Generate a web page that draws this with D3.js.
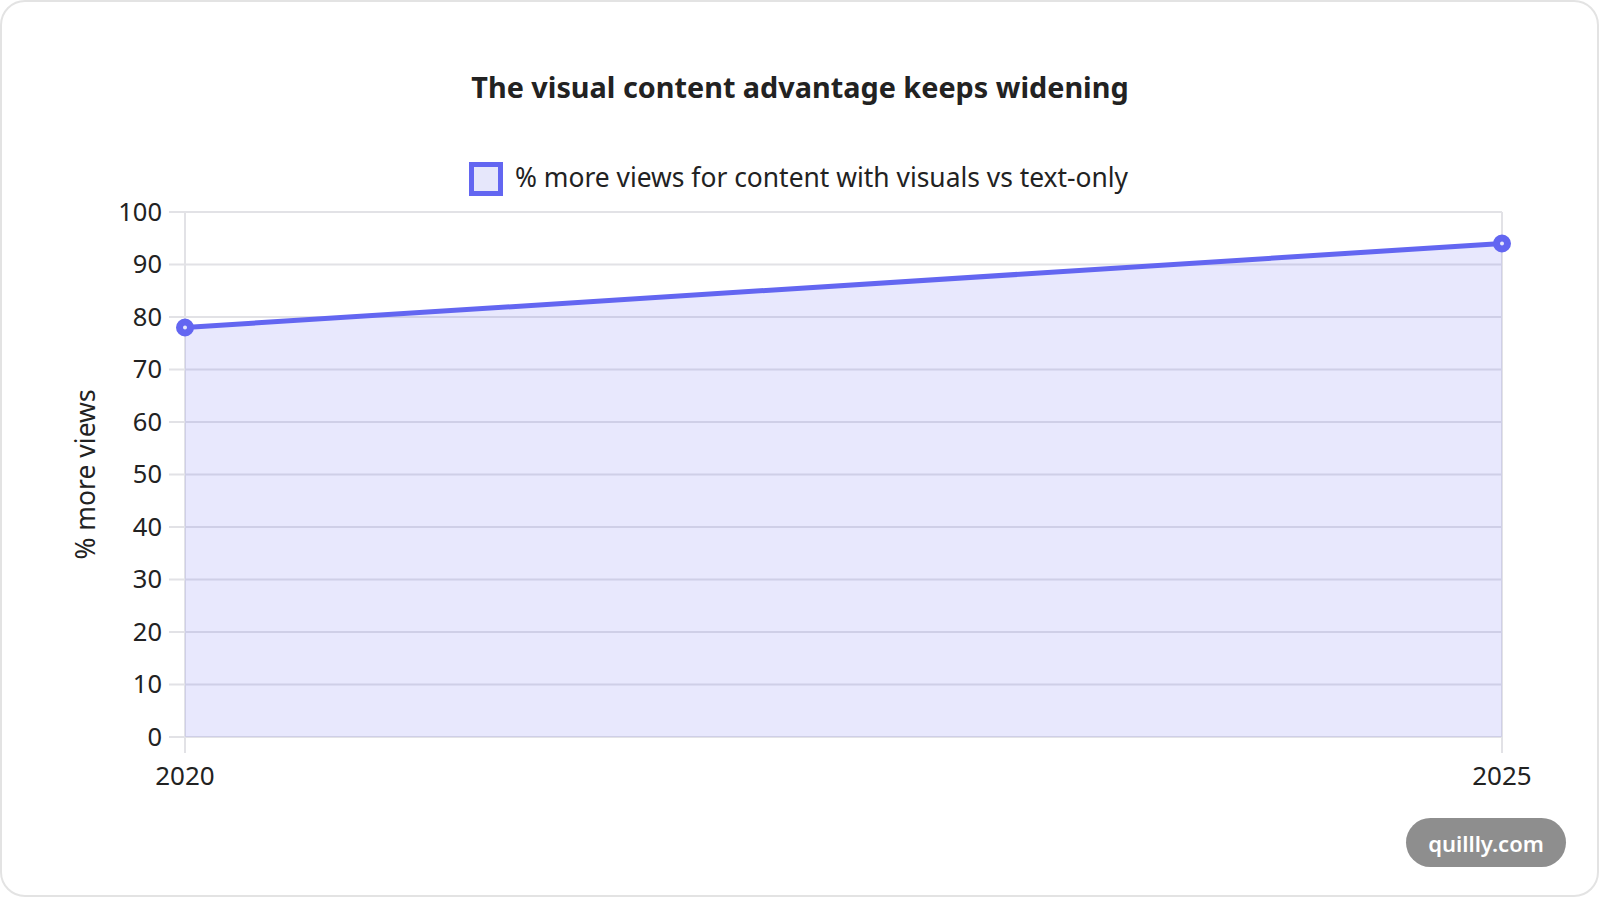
<!DOCTYPE html>
<html>
<head>
  <meta charset="utf-8">
  <script src="https://cdn.jsdelivr.net/npm/d3@7"></script>
  <style>
    html, body { margin: 0; padding: 0; background: #fff; }
    text { font-family: "Noto Sans", "Open Sans", sans-serif; fill: #222; }
  </style>
</head>
<body>
  <div id="chart"></div>
  <script>
    // data
    const years = ["2020", "2025"];
    const moreViews = [78, 94];
    const yTicks = [0, 10, 20, 30, 40, 50, 60, 70, 80, 90, 100];
    const seriesName = "% more views for content with visuals vs text-only";

    const width = 1600;
    const height = 898;
    const plot = { left: 185, right: 1502, top: 212, bottom: 737 };
    const lineColor = "#6366f1";
    const fillColor = "rgba(99,102,241,0.15)";
    const gridColor = "#e2e2e6";

    const svg = d3.select("#chart")
      .append("svg")
      .attr("width", width)
      .attr("height", height);

    // card
    svg.append("rect")
      .attr("x", 1).attr("y", 1)
      .attr("width", width - 3).attr("height", height - 3)
      .attr("rx", 24)
      .attr("fill", "#fff")
      .attr("stroke", "#e3e3e3")
      .attr("stroke-width", 2);

    var x = d3.scalePoint().domain(years).range([plot.left, plot.right]);
    var y = d3.scaleLinear().domain([0, 100]).range([plot.bottom, plot.top]);

    // grid
    var grid = svg.append("g");
    grid.selectAll(".hgrid")
      .data(yTicks)
      .enter().append("line")
      .attr("x1", plot.left - 16).attr("x2", plot.right)
      .attr("y1", d => y(d)).attr("y2", d => y(d))
      .attr("stroke", gridColor)
      .attr("stroke-width", 2);
    grid.selectAll(".vgrid")
      .data(years)
      .enter().append("line")
      .attr("x1", d => x(d)).attr("x2", d => x(d))
      .attr("y1", plot.top).attr("y2", plot.bottom + 16)
      .attr("stroke", gridColor)
      .attr("stroke-width", 2);

    // area + line
    var pts = years.map((d, i) => ({ year: d, value: moreViews[i] }));

    var area = d3.area()
      .x(d => x(d.year))
      .y0(y(0))
      .y1(d => y(d.value));

    var line = d3.line()
      .x(d => x(d.year))
      .y(d => y(d.value));

    svg.append("path")
      .datum(pts)
      .attr("d", area)
      .attr("fill", fillColor);

    svg.append("path")
      .datum(pts)
      .attr("d", line)
      .attr("fill", "none")
      .attr("stroke", lineColor)
      .attr("stroke-width", 5);

    svg.selectAll(".pt")
      .data(pts)
      .enter().append("circle")
      .attr("cx", d => x(d.year))
      .attr("cy", d => y(d.value))
      .attr("r", 5.5)
      .attr("fill", "#e6e7fb")
      .attr("stroke", lineColor)
      .attr("stroke-width", 7);

    // y tick labels
    svg.selectAll(".ylab")
      .data(yTicks)
      .enter().append("text")
      .attr("x", 162)
      .attr("y", d => y(d))
      .attr("dy", "0.35em")
      .attr("text-anchor", "end")
      .style("font-size", "25.5px")
      .text(d => d);

    // x tick labels
    svg.selectAll(".xlab")
      .data(years)
      .enter().append("text")
      .attr("x", d => x(d))
      .attr("y", 785)
      .attr("text-anchor", "middle")
      .style("font-size", "26px")
      .text(d => d);

    // y axis title
    svg.append("text")
      .attr("transform", "translate(95," + ((plot.top + plot.bottom) / 2) + ") rotate(-90)")
      .attr("text-anchor", "middle")
      .style("font-size", "26.5px")
      .text("% more views");

    // title
    svg.append("text")
      .attr("x", 800)
      .attr("y", 98)
      .attr("text-anchor", "middle")
      .style("font-size", "28.8px")
      .style("font-weight", "bold")
      .text("The visual content advantage keeps widening");

    // legend
    svg.append("rect")
      .attr("x", 471.5).attr("y", 164.5)
      .attr("width", 29).attr("height", 29)
      .attr("fill", "#e6e7fb")
      .attr("stroke", lineColor)
      .attr("stroke-width", 5);
    svg.append("text")
      .attr("x", 515)
      .attr("y", 187)
      .style("font-size", "26.4px")
      .text(seriesName);

    // watermark
    svg.append("rect")
      .attr("x", 1406).attr("y", 818)
      .attr("width", 160).attr("height", 49)
      .attr("rx", 24.5)
      .attr("fill", "#8e8e8e");
    svg.append("text")
      .attr("x", 1486)
      .attr("y", 852)
      .attr("text-anchor", "middle")
      .style("font-size", "22px")
      .style("font-weight", "600")
      .style("fill", "#fff")
      .text("quillly.com");
  </script>
</body>
</html>
